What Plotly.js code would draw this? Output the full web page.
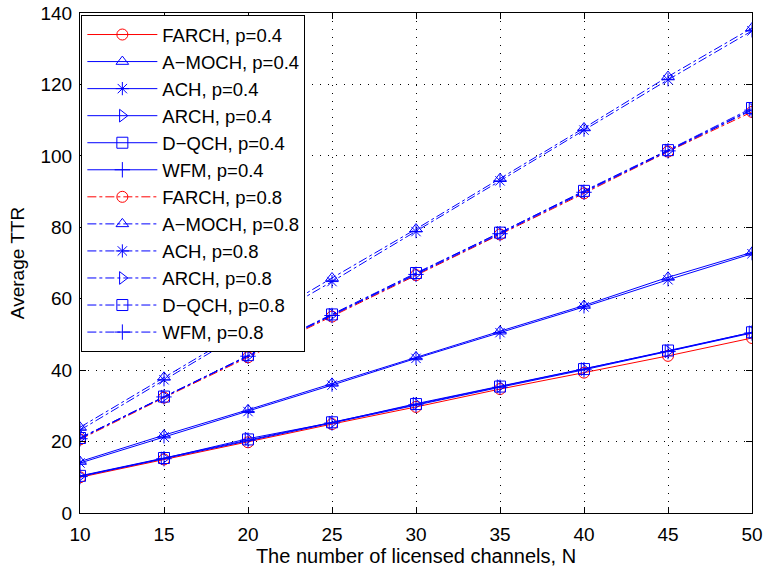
<!DOCTYPE html>
<html><head><meta charset="utf-8">
<script src="https://cdn.plot.ly/plotly-3.0.1.min.js"></script>
<style>body{margin:0;background:#fff}#c{width:764px;height:567px}</style>
</head><body><div id="c"></div>
<script>
const N = [10, 15, 20, 25, 30, 35, 40, 45, 50];
const farch04 = [10.0, 15.0, 19.8, 24.9, 29.7, 34.7, 39.3, 44.0, 49.0];
const amoch04 = [14.4, 21.8, 28.9, 36.3, 43.7, 50.9, 58.1, 66.0, 73.0];
const ach04   = [14.0, 21.3, 28.4, 35.8, 43.3, 50.5, 57.7, 65.3, 72.6];
const arch04  = [10.3, 15.3, 20.8, 25.3, 30.6, 35.5, 40.3, 45.3, 50.6];
const dqch04  = [10.4, 15.4, 20.6, 25.4, 30.5, 35.4, 40.3, 45.5, 50.6];
const wfm04   = [10.2, 15.2, 20.4, 25.2, 30.3, 35.2, 40.1, 45.2, 50.4];
const farch08 = [20.6, 32.3, 43.6, 55.0, 66.6, 78.0, 89.5, 101.2, 112.3];
const amoch08 = [24.0, 38.0, 52.0, 65.8, 79.5, 93.6, 107.8, 122.2, 135.8];
const ach08   = [23.2, 37.3, 51.2, 64.8, 78.8, 93.0, 107.2, 121.3, 135.0];
const arch08  = [21.0, 32.6, 44.0, 55.5, 67.0, 78.4, 90.0, 101.5, 113.0];
const dqch08  = [21.0, 32.6, 44.2, 55.6, 67.2, 78.5, 90.2, 101.6, 113.4];
const wfm08   = [20.8, 32.5, 43.9, 55.3, 66.8, 78.2, 89.8, 101.4, 112.8];

const names = ["FARCH", "A\u2212MOCH", "ACH", "ARCH", "D\u2212QCH", "WFM"];
const symbols = ["circle-open", "triangle-up-open", "asterisk-open", "triangle-right-open", "square-open", "cross-thin-open"];
const colors = ["#ff0000", "#0000ff", "#0000ff", "#0000ff", "#0000ff", "#0000ff"];
const data04 = [farch04, amoch04, ach04, arch04, dqch04, wfm04];
const data08 = [farch08, amoch08, ach08, arch08, dqch08, wfm08];

const FONT = "Liberation Sans, Arial, sans-serif";
const traces = [];
[[data04, "solid", "0.4"], [data08, "dashdot", "0.8"]].forEach(([set, dash, p]) => {
  set.forEach((ys, i) => {
    traces.push({
      x: N, y: ys, type: "scatter", mode: "lines+markers",
      name: names[i] + ", p=" + p,
      line: {color: colors[i], width: 1, dash: dash},
      marker: {symbol: symbols[i], size: 11, color: colors[i], line: {color: colors[i], width: 1}}
    });
  });
});

const ax = {
  showline: true, linecolor: "#000", linewidth: 1, mirror: "ticks",
  ticks: "inside", ticklen: 6, tickcolor: "#000",
  showgrid: true, gridcolor: "#000", griddash: "1px,7px", gridwidth: 1,
  zeroline: false,
  tickfont: {family: FONT, size: 19, color: "#000"}
};

const layout = {
  width: 764, height: 567,
  margin: {l: 80, r: 12, t: 13, b: 54},
  paper_bgcolor: "#fff", plot_bgcolor: "#fff",
  font: {family: FONT, color: "#000"},
  showlegend: true,
  xaxis: Object.assign({}, ax, {range: [10, 50], dtick: 5, tick0: 10, ticklabelstandoff: 4,
    title: {text: "The number of licensed channels, N", font: {size: 20}, standoff: 2}}),
  yaxis: Object.assign({}, ax, {range: [0, 140], dtick: 20, tick0: 0, ticklabelstandoff: 3,
    title: {text: "Average TTR", font: {size: 19}, standoff: 10}}),
  legend: {
    x: 0.002, y: 0.996, xanchor: "left", yanchor: "top",
    bgcolor: "#fff", bordercolor: "#000", borderwidth: 1,
    font: {size: 18.5, family: FONT, color: "#000"},
    itemwidth: 70
  }
};

Plotly.newPlot("c", traces, layout, {displayModeBar: false, staticPlot: true});
</script>
</body></html>
